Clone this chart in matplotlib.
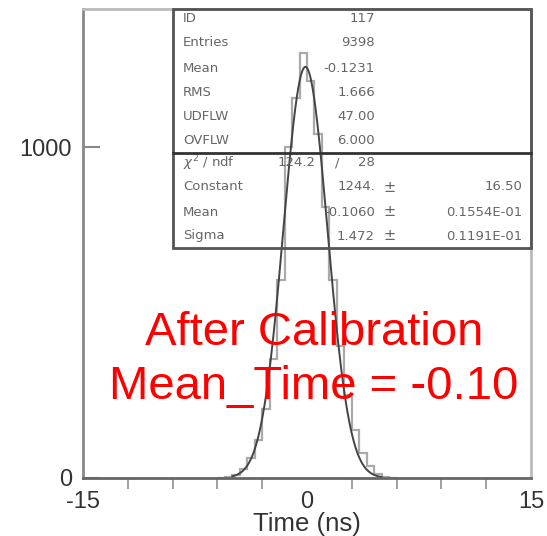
import numpy as np
import matplotlib.pyplot as plt
from matplotlib.patches import Rectangle

plt.rcParams['font.family'] = ['Liberation Sans', 'DejaVu Sans']
plt.rcParams['axes.unicode_minus'] = False

# Histogramme (bins de 0.5 ns)
bin_edges = [-6.0, -5.5, -5.0, -4.5, -4.0, -3.5, -3.0, -2.5, -2.0, -1.5, -1.0, -0.5,
             0.0, 0.5, 1.0, 1.5, 2.0, 2.5, 3.0, 3.5, 4.0, 4.5, 5.0, 5.5, 6.0]
counts = [0, 3, 10, 28, 60, 115, 210, 360, 600, 1000, 1150, 1285,
          1200, 1040, 820, 600, 400, 250, 145, 75, 35, 12, 4, 0]

# Paramètres du fit gaussien
fit_const = 1244.
fit_mean = -0.1060
fit_sigma = 1.472

stats_top = [("ID", "117"), ("Entries", "9398"), ("Mean", "-0.1231"),
             ("RMS", "1.666"), ("UDFLW", "47.00"), ("OVFLW", "6.000")]
fit_rows = [("Constant", "1244.", "16.50"), ("Mean", "-0.1060", "0.1554E-01"),
            ("Sigma", "1.472", "0.1191E-01")]
chi2, ndf = "124.2", "28"

fig = plt.figure(figsize=(5.47, 5.36), dpi=100)
ax = fig.add_axes([83/547, 58/536, 448/547, 469/536])

ax.stairs(counts, bin_edges, color='#aaaaaa', lw=1.6, baseline=0)
xf = np.linspace(-5, 5, 300)
ax.plot(xf, fit_const*np.exp(-0.5*((xf - fit_mean)/fit_sigma)**2), color='#444444', lw=1.4)

ax.set_xlim(-15, 15)
ax.set_ylim(0, 1419)
ax.set_xticks([-15, 0, 15])
ax.set_xticks(np.arange(-12, 15, 3), minor=True)
ax.set_yticks([0, 1000])
ax.tick_params(axis='both', direction='in', labelsize=17, colors='#333333')
ax.tick_params(axis='x', which='major', length=0, pad=9)
ax.tick_params(axis='x', which='minor', length=8, color='#999999', width=1.3)
ax.tick_params(axis='y', length=12, color='#888888', width=1.5, pad=8)
ax.spines['left'].set_color('#888888')
ax.spines['bottom'].set_color('#666666')
ax.spines['top'].set_color('#bbbbbb')
ax.spines['right'].set_color('#bbbbbb')
for s in ax.spines.values():
    s.set_linewidth(2)
ax.set_xlabel("Time (ns)", fontsize=18.5, color='#333333', labelpad=0)

# Boîte de statistiques
x0, y0, y_div = 0.2009, 0.4904, 0.693
ax.add_patch(Rectangle((x0, y0), 1 - x0, 1 - y0, transform=ax.transAxes, fill=False,
                       ec='#555555', lw=2, clip_on=False, zorder=5))
ax.plot([x0, 1], [y_div, y_div], transform=ax.transAxes, color='#333333', lw=2,
        clip_on=False, zorder=5)

row_px = [18, 43, 69, 92, 116, 140]
fs = 9.5
tc = '#666666'
sf = ['DejaVu Sans']
for (lab, val), py in zip(stats_top, row_px):
    yy = (478 - py) / 469
    ax.text(0.2232, yy, lab, transform=ax.transAxes, fontsize=fs, color=tc, va='center', family=sf)
    ax.text(0.6518, yy, val, transform=ax.transAxes, fontsize=fs, color=tc, va='center',
            ha='right', family=sf)

yy = (478 - 163) / 469
ax.text(0.2232, yy, r"$\chi^2$ / ndf", transform=ax.transAxes, fontsize=fs, color=tc,
        va='center', family=sf)
ax.text(0.518, yy, chi2, transform=ax.transAxes, fontsize=fs, color=tc, va='center',
        ha='right', family=sf)
ax.text(0.567, yy, "/", transform=ax.transAxes, fontsize=fs, color=tc, va='center',
        ha='center', family=sf)
ax.text(0.6518, yy, ndf, transform=ax.transAxes, fontsize=fs, color=tc, va='center',
        ha='right', family=sf)

for (lab, val, err), py in zip(fit_rows, [187, 212, 236]):
    yy = (478 - py) / 469
    ax.text(0.2232, yy, lab, transform=ax.transAxes, fontsize=fs, color=tc, va='center', family=sf)
    ax.text(0.6518, yy, val, transform=ax.transAxes, fontsize=fs, color=tc, va='center',
            ha='right', family=sf)
    ax.text(0.685, yy, "\u00b1", transform=ax.transAxes, fontsize=fs + 1, color=tc,
            va='center', ha='center', family=sf)
    ax.text(0.98, yy, err, transform=ax.transAxes, fontsize=fs, color=tc, va='center',
            ha='right', family=sf)

# Annotation en rouge
ax.text(0.516, 0.2836, "After Calibration", transform=ax.transAxes, fontsize=34,
        color='red', ha='center', va='baseline', zorder=6)
ax.text(0.516, 0.1684, "Mean_Time = -0.10", transform=ax.transAxes, fontsize=34,
        color='red', ha='center', va='baseline', zorder=6)

fig.savefig("out.png", dpi=100)
